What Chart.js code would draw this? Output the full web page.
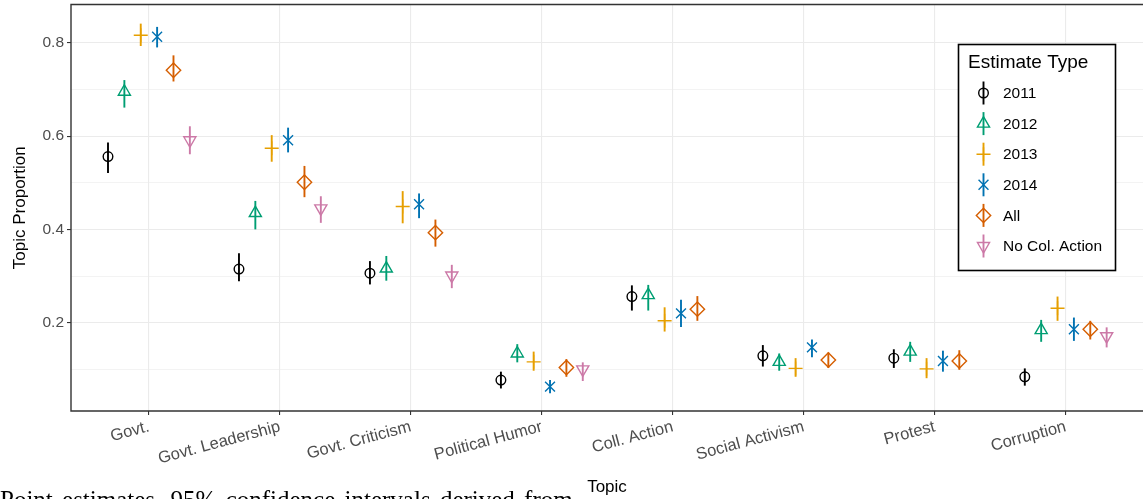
<!DOCTYPE html>
<html><head><meta charset="utf-8">
<script src="https://cdn.jsdelivr.net/npm/chart.js@4.4.1/dist/chart.umd.min.js"></script>
<style>
html,body{margin:0;padding:0;background:#fff;overflow:hidden;}
#wrap{position:relative;width:1143px;height:499px;overflow:hidden;}
canvas{display:block;}
#cap{position:absolute;left:0;top:487px;font-family:"Liberation Serif","DejaVu Serif",serif;font-size:25px;line-height:25px;word-spacing:3px;white-space:nowrap;color:#000;}
</style></head><body>
<div id="wrap"><canvas id="c" width="1143" height="499"></canvas><div id="cap">Point estimates, 95% confidence intervals derived from</div></div>
<script>
const topics = ['Govt.','Govt. Leadership','Govt. Criticism','Political Humor','Coll. Action','Social Activism','Protest','Corruption'];
const seriesNames = ['2011','2012','2013','2014','All','No Col. Action'];
const seriesColors = ['#000000','#009E73','#E69F00','#0072B2','#D55E00','#CC79A7'];
const yTickValues = [0.1,0.2,0.3,0.4,0.5,0.6,0.7,0.8];
const yTickLabels = ['','0.2','','0.4','','0.6','','0.8'];

const est2011 = [0.556,0.315,0.306,0.077,0.256,0.129,0.124,0.084];
const lo2011  = [0.521,0.289,0.282,0.059,0.226,0.106,0.103,0.065];
const hi2011  = [0.586,0.349,0.332,0.095,0.280,0.152,0.143,0.102];

const est2012 = [0.695,0.435,0.316,0.134,0.259,0.116,0.138,0.184];
const lo2012  = [0.661,0.400,0.290,0.115,0.226,0.097,0.116,0.159];
const hi2012  = [0.720,0.461,0.343,0.154,0.281,0.134,0.159,0.206];

const est2013 = [0.816,0.574,0.449,0.116,0.204,0.102,0.101,0.231];
const lo2013  = [0.793,0.545,0.413,0.097,0.181,0.084,0.081,0.204];
const hi2013  = [0.841,0.602,0.482,0.138,0.233,0.124,0.124,0.256];

const est2014 = [0.813,0.591,0.454,0.063,0.220,0.147,0.118,0.186];
const lo2014  = [0.790,0.565,0.424,0.049,0.191,0.126,0.095,0.161];
const hi2014  = [0.834,0.618,0.477,0.077,0.249,0.164,0.140,0.211];

const estAll = [0.741,0.501,0.393,0.104,0.229,0.120,0.118,0.186];
const loAll  = [0.717,0.469,0.363,0.084,0.204,0.103,0.099,0.164];
const hiAll  = [0.773,0.536,0.421,0.122,0.257,0.136,0.141,0.204];

const estNoCol = [0.591,0.445,0.301,0.100,null,null,null,0.171];
const loNoCol  = [0.561,0.414,0.274,0.075,null,null,null,0.147];
const hiNoCol  = [0.621,0.471,0.324,0.115,null,null,null,0.190];

const estimates = [est2011,est2012,est2013,est2014,estAll,estNoCol];
const lowers = [lo2011,lo2012,lo2013,lo2014,loAll,loNoCol];
const uppers = [hi2011,hi2012,hi2013,hi2014,hiAll,hiNoCol];

const styles = [
  {pointStyle:'circle', radius:4.8, rotation:0},
  {pointStyle:'triangle', radius:7, rotation:0},
  {pointStyle:'cross', radius:7, rotation:0},
  {pointStyle:'crossRot', radius:7, rotation:0},
  {pointStyle:'rectRot', radius:7.2, rotation:0},
  {pointStyle:'triangle', radius:7, rotation:180}
];
const dodge = 0.125;
const FONT = '"Liberation Sans", Arial, Helvetica, sans-serif';

const datasets = seriesNames.map((name,k)=>{
  const data = [];
  topics.forEach((t,i)=>{
    if (estimates[k][i] == null) return;
    data.push({x: i+1+(k-2.5)*dodge, y: estimates[k][i], lo: lowers[k][i], hi: uppers[k][i]});
  });
  return {
    label: name, data,
    borderColor: seriesColors[k], backgroundColor: 'rgba(0,0,0,0)',
    pointStyle: styles[k].pointStyle, pointRadius: styles[k].radius,
    pointRotation: styles[k].rotation, pointBorderWidth: 1.4,
    pointHoverRadius: styles[k].radius
  };
});

const errorBars = {
  id:'errorBars',
  beforeDatasetsDraw(chart){
    const ctx = chart.ctx, ys = chart.scales.y, a = chart.chartArea;
    ctx.save();
    ctx.strokeStyle = '#333333'; ctx.lineWidth = 1.4;
    ctx.beginPath();
    ctx.moveTo(a.right+5, a.top); ctx.lineTo(a.left, a.top); ctx.lineTo(a.left, a.bottom); ctx.lineTo(a.right+5, a.bottom);
    ctx.stroke();
    chart.data.datasets.forEach((ds,i)=>{
      const meta = chart.getDatasetMeta(i);
      ctx.strokeStyle = ds.borderColor; ctx.lineWidth = 1.9;
      meta.data.forEach((pt,j)=>{
        const r = ds.data[j];
        ctx.beginPath();
        ctx.moveTo(pt.x, ys.getPixelForValue(r.lo));
        ctx.lineTo(pt.x, ys.getPixelForValue(r.hi));
        ctx.stroke();
      });
    });
    ctx.restore();
  }
};

function drawShape(ctx, st, x, y){
  if (Chart.helpers && Chart.helpers.drawPoint) {
    Chart.helpers.drawPoint(ctx, {pointStyle: st.pointStyle, rotation: st.rotation, radius: st.radius, borderWidth: 1.4}, x, y);
  }
}

const legendBox = {
  id:'legendBox',
  afterDraw(chart){
    const ctx = chart.ctx;
    ctx.save();
    ctx.fillStyle = '#ffffff';
    ctx.fillRect(958, 44, 158, 226);
    ctx.strokeStyle = '#000000'; ctx.lineWidth = 1.6;
    ctx.strokeRect(958.5, 44.5, 157, 226);
    ctx.fillStyle = '#000000';
    ctx.textBaseline = 'middle'; ctx.textAlign = 'left';
    ctx.font = '19px ' + FONT;
    ctx.fillText('Estimate Type', 968, 63);
    ctx.font = '15.5px ' + FONT;
    seriesNames.forEach((n,i)=>{
      const y = 93 + i*30.6, x = 983.5;
      ctx.strokeStyle = seriesColors[i]; ctx.lineWidth = 1.9;
      ctx.beginPath(); ctx.moveTo(x, y-11.5); ctx.lineTo(x, y+11.5); ctx.stroke();
      ctx.fillStyle = 'rgba(0,0,0,0)'; ctx.lineWidth = 1.4;
      drawShape(ctx, styles[i], x, y);
      ctx.fillStyle = '#000000';
      ctx.fillText(n, 1003, y+1);
    });
    ctx.restore();
  }
};

new Chart(document.getElementById('c'), {
  type: 'scatter',
  data: { datasets },
  plugins: [errorBars, legendBox],
  options: {
    responsive: false, animation: false, devicePixelRatio: 1,
    layout: { autoPadding: false, padding: { left: 0, right: 0, top: 4.5, bottom: 0 } },
    plugins: { legend: { display: false }, tooltip: { enabled: false } },
    scales: {
      x: {
        type: 'linear', min: 0.405, max: 8.59,
        afterFit(s){ s.height = 88; s.paddingLeft = 0; s.paddingRight = 0; },
        afterBuildTicks(s){ s.ticks = topics.map((t,i)=>({value: i+1})); },
        ticks: { autoSkip: false, minRotation: 15, maxRotation: 15, padding: 2,
          color: '#4d4d4d', font: { family: FONT, size: 16.5 },
          callback: (v, i) => topics[i] },
        grid: { color: '#ebebeb', lineWidth: 1.1, tickColor: '#333333', tickLength: 4, tickWidth: 1.1 },
        border: { display: false },
        title: { display: true, text: 'Topic', color: '#000000', font: { family: FONT, size: 17 }, padding: { top: 0, bottom: 1 } }
      },
      y: {
        type: 'linear', min: 0.0107, max: 0.882,
        afterFit(s){ s.width = 71; s.paddingTop = 0; s.paddingBottom = 0; },
        afterBuildTicks(s){ s.ticks = yTickValues.map(v=>({value: v})); },
        ticks: { autoSkip: false, padding: 3, color: '#4d4d4d', font: { family: FONT, size: 15.5 },
          callback: (v, i) => yTickLabels[i] },
        grid: {
          color: '#ebebeb',
          lineWidth: c => (yTickLabels[c.index] === '' ? 0.6 : 1.1),
          tickColor: c => (yTickLabels[c.index] === '' ? 'rgba(0,0,0,0)' : '#333333'),
          tickLength: 4, tickWidth: 1.1
        },
        border: { display: false },
        title: { display: true, text: 'Topic Proportion', color: '#000000', font: { family: FONT, size: 17 }, padding: { top: 10, bottom: 0 } }
      }
    }
  }
});
</script>
</body></html>
